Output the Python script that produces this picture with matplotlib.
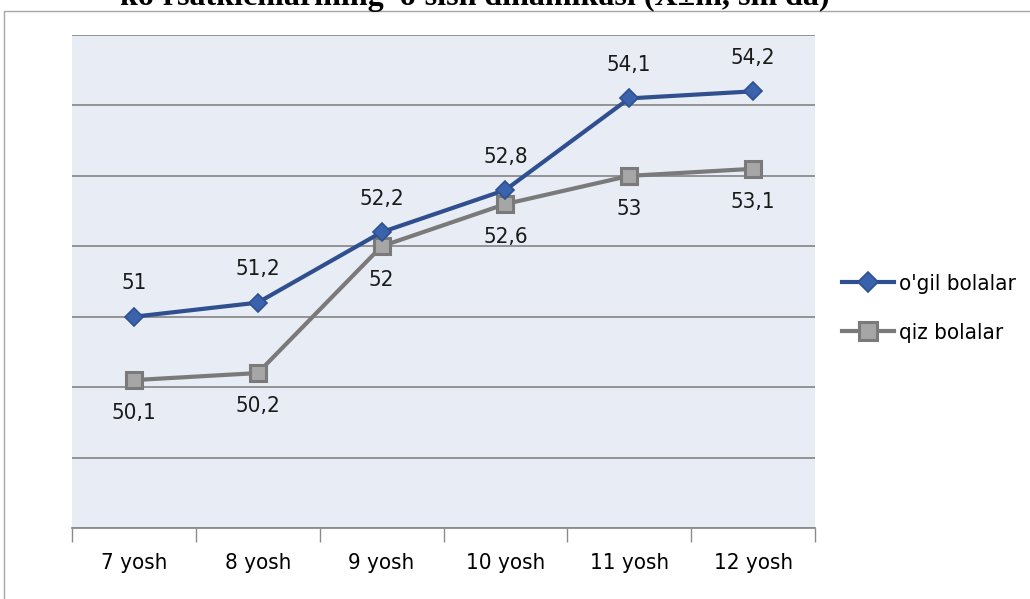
import numpy as np
import matplotlib.pyplot as plt
from matplotlib.patches import Rectangle

# ==================================================
# 0. DADOS
# ==================================================

yoshlar = ["7 yosh", "8 yosh", "9 yosh", "10 yosh", "11 yosh", "12 yosh"]
ogil_bolalar = [51.0, 51.2, 52.2, 52.8, 54.1, 54.2]
qiz_bolalar = [50.1, 50.2, 52.0, 52.6, 53.0, 53.1]

sarlavha = "ko'rsatkichlarining  o'sish dinamikasi (X±m, sm da)"

# ==================================================
# 1. FIGURA
# ==================================================

plt.rcParams["font.family"] = ["DejaVu Sans"]
plt.rcParams["font.stretch"] = "condensed"

W, H = 1030, 599
fig = plt.figure(figsize=(W / 100, H / 100), dpi=100)

# moldura externa do gráfico
fig.patches.append(Rectangle((4 / W, -0.1), 1.2, 1 - 11 / H + 0.1,
                             transform=fig.transFigure, fill=False,
                             edgecolor="#a6a6a6", linewidth=1.0))

# título cortado no topo, como no original
fig.text(475 / W, 1 - 5 / H, sarlavha, ha="center", va="baseline",
         fontsize=23, fontweight="bold", family="Liberation Serif",
         stretch="normal")

ax = fig.add_axes([72 / W, 1 - 528 / H, (815 - 72) / W, (528 - 35) / H])
ax.set_facecolor("#e8ecf5")

x = np.arange(len(yoshlar))

ax.plot(x, ogil_bolalar, color="#2f4f8f", linewidth=3,
        marker="D", markersize=9, markerfacecolor="#3b62ad",
        markeredgecolor="#2f4f8f", markeredgewidth=1.2,
        label="o'gil bolalar", zorder=4)

ax.plot(x, qiz_bolalar, color="#7a7a7a", linewidth=3,
        marker="s", markersize=12, markerfacecolor="#a6a6a6",
        markeredgecolor="#7a7a7a", markeredgewidth=2.2,
        label="qiz bolalar", zorder=3)

def fmt(v):
    s = f"{v:.1f}".rstrip("0").rstrip(".")
    return s.replace(".", ",")

for xi, v in zip(x, ogil_bolalar):
    ax.annotate(fmt(v), (xi, v), xytext=(0, 24), textcoords="offset points",
                ha="center", va="center", fontsize=16, color="#1a1a1a")

for xi, v in zip(x, qiz_bolalar):
    ax.annotate(fmt(v), (xi, v), xytext=(0, -24), textcoords="offset points",
                ha="center", va="center", fontsize=16, color="#1a1a1a")

ax.set_xlim(-0.5, len(yoshlar) - 0.5)
ax.set_ylim(48, 55)
ax.set_yticks(np.arange(48, 56, 1))
ax.yaxis.grid(True, color="#8c8c8c", linewidth=1.3)
ax.set_axisbelow(True)
ax.tick_params(axis="y", left=False, labelleft=False)

ax.set_xticks(x)
ax.set_xticklabels(yoshlar, fontsize=16)
ax.tick_params(axis="x", length=0, pad=18)
ax.set_xticks(np.arange(-0.5, len(yoshlar), 1), minor=True)
ax.tick_params(axis="x", which="minor", length=10, color="#8c8c8c", width=1)

for s in ["left", "right"]:
    ax.spines[s].set_visible(False)
ax.spines["top"].set_visible(False)
ax.spines["bottom"].set_color("#8c8c8c")
ax.spines["bottom"].set_linewidth(1.3)

ax.legend(loc="center left", bbox_to_anchor=(1.01, 0.445), frameon=False,
          fontsize=16, handlelength=2.3, labelspacing=1.3, handletextpad=0.25,
          markerscale=1.1)

fig.savefig("out.png", dpi=100)
